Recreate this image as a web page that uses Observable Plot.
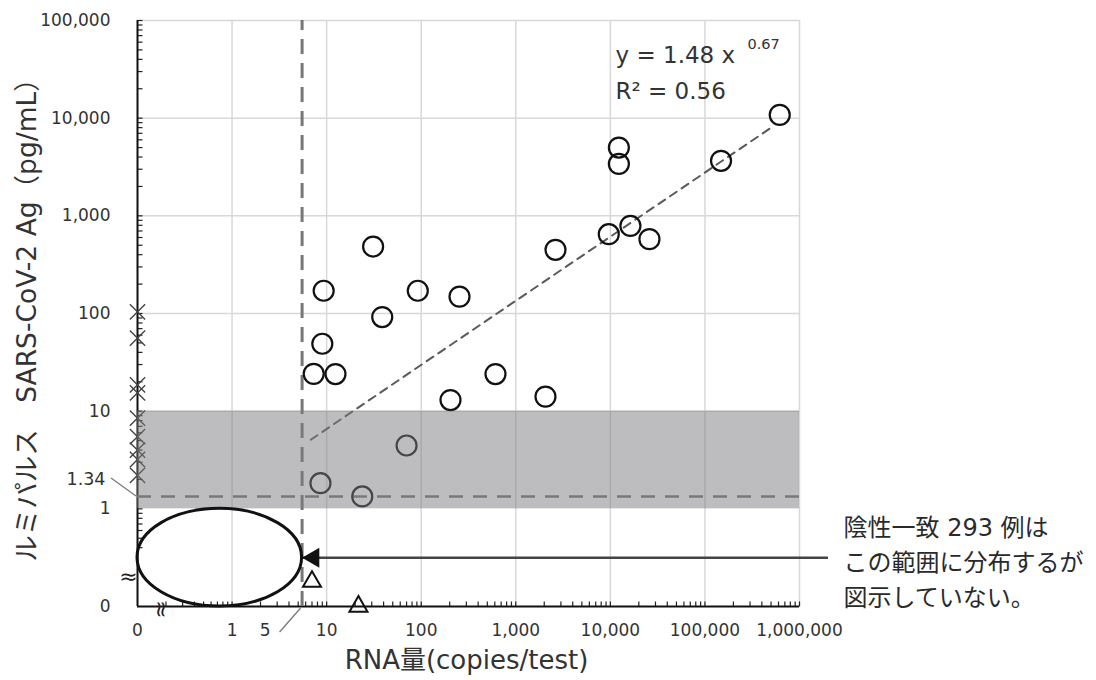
<!DOCTYPE html>
<html><head><meta charset="utf-8">
<script src="https://cdn.jsdelivr.net/npm/d3@7"></script>
<script src="https://cdn.jsdelivr.net/npm/@observablehq/plot@0.6"></script>
<style>body{margin:0;background:#fff}</style>
</head><body><div id="chart"></div>
<script>
// "0" is drawn one decade below 1 on both log axes
const ZERO = 0.1;
const circleX = [31, 9.3, 92, 254, 38.7, 9.0, 7.3, 12.4, 610, 204, 2060, 2630, 70, 8.6, 23.8, 9620, 16300, 25900, 12300, 12300, 148000, 618000];
const circleY = [485, 171, 171, 149, 92, 49, 24.1, 24, 24, 13, 14.1, 449, 4.45, 1.83, 1.34, 649, 789, 577, 5000, 3400, 3660, 10800];
const triangleX = [7.0, 21.7];
const triangleY = [0.18, ZERO];
const crossY = [104, 56, 18.6, 15.4, 8.5, 5.5, 4.0, 3.2, 2.2];
const xTickValues = [ZERO, 1, 10, 100, 1000, 10000, 100000, 1000000];
const xTickLabels = ["0", "1", "10", "100", "1,000", "10,000", "100,000", "1,000,000"];
const yTickValues = [ZERO, 1, 10, 100, 1000, 10000, 100000];
const yTickLabels = ["0", "1", "10", "100", "1,000", "10,000", "100,000"];
const cutoffX = 5.5, cutoffXLabel = "5";
const cutoffY = 1.34, cutoffYLabel = "1.34";
const band = [[1, 10]];
const fitX = [6.8, 531000];
const fitY = [5.1, 8300];
const arrowStartX = 2000000, arrowY = 0.316;
const eqMain = "y = 1.48 x", eqExp = "0.67", eqR2 = "R² = 0.56";
const noteText = "陰性一致 293 例は\nこの範囲に分布するが\n図示していない。";
const xTitle = "RNA量(copies/test)";
const yTitle = "ルミパルス　SARS-CoV-2 Ag（pg/mL）";

const circles = circleX.map((x, i) => ({x, y: circleY[i]}));
const triangles = triangleX.map((x, i) => ({x, y: triangleY[i]}));
const fit = fitX.map((x, i) => ({x, y: fitY[i]}));
const xMinor = d3.scaleLog().domain([0.2, 1e6]).ticks();
const yMinor = d3.scaleLog().domain([0.4, 1e5]).ticks();

const tickUp = {draw(ctx) { ctx.moveTo(0, 0); ctx.lineTo(0, -5); }};
const tickRight = {draw(ctx) { ctx.moveTo(0, 0); ctx.lineTo(5, 0); }};
const txt = "#333";
const wide = "'DejaVu Sans', 'Noto Sans CJK JP', sans-serif";

const chart = Plot.plot({
  width: 1096, height: 680,
  marginLeft: 137, marginRight: 297, marginTop: 20, marginBottom: 74,
  x: {type: "log", domain: [ZERO, 1e6], axis: null},
  y: {type: "log", domain: [ZERO, 1e5], axis: null},
  style: {fontFamily: wide, background: "white", overflow: "visible"},
  marks: [
    Plot.ruleX(xTickValues.slice(1), {y1: ZERO, y2: 1e5, stroke: "#d8d8d8", strokeWidth: 1.5}),
    Plot.ruleY(yTickValues.slice(2), {x1: ZERO, x2: 1e6, stroke: "#d8d8d8", strokeWidth: 1.5}),
    Plot.dot(xMinor, {x: d => d, frameAnchor: "bottom", symbol: tickUp, fill: "none", stroke: "#222", strokeWidth: 1.2}),
    Plot.dot(yMinor, {y: d => d, frameAnchor: "left", symbol: tickRight, fill: "none", stroke: "#222", strokeWidth: 1.2}),
    Plot.ruleY([ZERO], {x1: ZERO, x2: 1e6, stroke: "#111", strokeWidth: 2}),
    Plot.ruleX([ZERO], {y1: ZERO, y2: 1e5, stroke: "#111", strokeWidth: 2}),
    Plot.ruleX([cutoffX], {y1: ZERO, y2: 1e5, stroke: "#777", strokeWidth: 3, strokeDasharray: "15,9"}),
    Plot.ruleY([cutoffY], {x1: ZERO, x2: 1e6, stroke: "#777", strokeWidth: 2.5, strokeDasharray: "14,10"}),
    Plot.line(fit, {x: "x", y: "y", stroke: "#5a5a5a", strokeWidth: 2, strokeDasharray: "8,6"}),
    Plot.dot(circles, {x: "x", y: "y", r: 10, fill: "none", stroke: "#111", strokeWidth: 2.2}),
    Plot.dot(crossY, {x: () => ZERO, y: d => d, symbol: "times", r: 7, stroke: "#444", strokeWidth: 1.4}),
    Plot.dot(triangles, {x: "x", y: "y", symbol: "triangle", r: 6.7, fill: "none", stroke: "#111", strokeWidth: 2}),
    Plot.rect(band, {x1: ZERO, x2: 1e6, y1: d => d[0], y2: d => d[1], fill: "#7c7c80", fillOpacity: 0.5}),
    Plot.link([0], {x1: arrowStartX, x2: cutoffX, y1: arrowY, y2: arrowY, stroke: "#444", strokeWidth: 2.5}),
    Plot.dot([0], {x: cutoffX, y: arrowY, symbol: "triangle", rotate: -90, r: 7.4, fill: "#111", dx: 11.5}),
    Plot.text(xTickValues, {x: d => d, frameAnchor: "bottom", dy: 29, text: (d, i) => xTickLabels[i], fontSize: 17, fill: txt}),
    Plot.text(yTickValues, {y: d => d, frameAnchor: "left", dx: -27, textAnchor: "end", text: (d, i) => yTickLabels[i], fontSize: 17, fill: txt}),
    Plot.text([cutoffX], {x: d => d, frameAnchor: "bottom", dx: -37, dy: 29, text: () => cutoffXLabel, fontSize: 17, fill: txt}),
    Plot.text([cutoffY], {y: d => d, frameAnchor: "left", dx: -32, dy: -17, textAnchor: "end", text: () => cutoffYLabel, fontSize: 17.5, fill: txt}),
    Plot.text([eqMain], {frameAnchor: "top-left", dx: 478, dy: 26, textAnchor: "start", fontSize: 23, fill: txt}),
    Plot.text([eqExp], {frameAnchor: "top-left", dx: 610, dy: 18, textAnchor: "start", fontSize: 14.5, fill: txt}),
    Plot.text([eqR2], {frameAnchor: "top-left", dx: 478, dy: 62, textAnchor: "start", fontSize: 23, fill: txt}),
    Plot.text([noteText], {frameAnchor: "top-left", dx: 706, dy: 539, textAnchor: "start", lineAnchor: "middle", lineHeight: 1.47, fontSize: 24, fill: "#2a2a2a"}),
    Plot.text([xTitle], {frameAnchor: "bottom", dx: -2, dy: 62, textAnchor: "middle", fontSize: 26, fill: txt}),
    Plot.text([yTitle], {frameAnchor: "left", dx: -110, textAnchor: "middle", rotate: -90, fontSize: 26.5, fill: txt}),
    Plot.text(["≈"], {frameAnchor: "bottom-left", dx: -9, dy: -23, textAnchor: "middle", fontSize: 22, fill: "#222"}),
    Plot.text(["≈"], {frameAnchor: "bottom-left", dx: 16, dy: 3, textAnchor: "middle", rotate: 90, fontSize: 22, fill: "#222"})
  ]
});

document.getElementById("chart").appendChild(chart);

// annotation shapes positioned through the plot's own scales
const sx = chart.scale("x"), sy = chart.scale("y");
const svg = d3.select(chart);
const ex0 = sx.apply(ZERO), ex1 = sx.apply(cutoffX);
const ey0 = sy.apply(ZERO), ey1 = sy.apply(1);
svg.append("ellipse")
  .attr("cx", (ex0 + ex1) / 2).attr("cy", (ey0 + ey1) / 2)
  .attr("rx", (ex1 - ex0) / 2).attr("ry", (ey0 - ey1) / 2)
  .attr("fill", "none").attr("stroke", "#111").attr("stroke-width", 3);
const y134 = sy.apply(cutoffY);
svg.append("line").attr("x1", ex0 - 26).attr("y1", y134 - 18).attr("x2", ex0 - 1).attr("y2", y134)
  .attr("stroke", "#777").attr("stroke-width", 1.2);
svg.append("line").attr("x1", ex1 - 22).attr("y1", ey0 + 26).attr("x2", ex1 - 1).attr("y2", ey0 + 2)
  .attr("stroke", "#777").attr("stroke-width", 1.2);
</script>
</body></html>
